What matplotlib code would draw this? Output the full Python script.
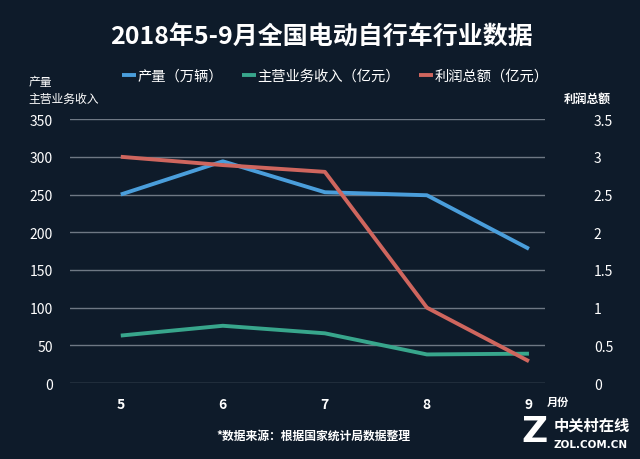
import matplotlib.pyplot as plt

plt.rcParams['font.family'] = ['Noto Sans CJK SC', 'DejaVu Sans']

months = [5, 6, 7, 8, 9]
output = [250, 294, 253, 249, 178]          # 产量（万辆）
revenue = [63, 76, 66, 38, 39]              # 主营业务收入（亿元）
profit = [3.0, 2.89, 2.8, 1.0, 0.29]        # 利润总额（亿元）
left_ticks = [0, 50, 100, 150, 200, 250, 300, 350]
right_ticks = [0, 0.5, 1, 1.5, 2, 2.5, 3, 3.5]
right_labels = ['0', '0.5', '1', '1.5', '2', '2.5', '3', '3.5']

BG = '#0e1b2a'
C_BLUE = '#4a9edb'
C_GREEN = '#38a68c'
C_RED = '#cf665e'
GRID = '#6e7884'
TXT = '#ffffff'

fig = plt.figure(figsize=(6.4, 4.6), dpi=100, facecolor=BG)
ax = fig.add_axes([0.109, 0.165, 0.743, 0.574])
ax.set_facecolor(BG)

l1, = ax.plot(months, output, color=C_BLUE, lw=2.8, label='产量（万辆）', solid_capstyle='butt')
l2, = ax.plot(months, revenue, color=C_GREEN, lw=2.8, label='主营业务收入（亿元）', solid_capstyle='butt')
ax.set_ylim(0, 350)
ax.set_xlim(4.5, 9.16)
ax.set_yticks(left_ticks)
ax.set_xticks(months)
ax.set_xticklabels([str(m) for m in months], fontweight='bold')
ax.grid(axis='y', color=GRID, lw=1)
ax.set_axisbelow(True)
for s in ax.spines.values():
    s.set_visible(False)
ax.tick_params(length=0, colors=TXT, labelsize=10)
ax.tick_params(axis='y', pad=12)
ax.tick_params(axis='x', pad=10)

ax2 = ax.twinx()
l3, = ax2.plot(months, profit, color=C_RED, lw=2.8, label='利润总额（亿元）', solid_capstyle='butt')
ax2.set_ylim(0, 3.5)
ax2.set_yticks(right_ticks)
ax2.set_yticklabels(right_labels)
for s in ax2.spines.values():
    s.set_visible(False)
ax2.tick_params(length=0, colors=TXT, labelsize=10, pad=35)

fig.text(0.502, 0.918, '2018年5-9月全国电动自行车行业数据', color=TXT, fontsize=18,
         fontweight='bold', ha='center', va='center')

leg = fig.legend(handles=[l1, l2, l3], loc='center', bbox_to_anchor=(0.524, 0.833), ncol=3,
                 frameon=False, fontsize=10.3, handlelength=1.0, columnspacing=1.3,
                 handletextpad=0.1, labelcolor=TXT)

fig.text(0.045, 0.82, '产量', color=TXT, fontsize=8.5, ha='left', va='center')
fig.text(0.045, 0.783, '主营业务收入', color=TXT, fontsize=8.5, ha='left', va='center')
fig.text(0.955, 0.783, '利润总额', color=TXT, fontsize=8.5, ha='right', va='center', fontweight='bold')
fig.text(0.855, 0.125, '月份', color=TXT, fontsize=8, ha='left', va='center', fontweight='bold')
fig.text(0.49, 0.052, '*数据来源：根据国家统计局数据整理', color=TXT, fontsize=8.5,
         ha='center', va='center', fontweight='bold')

fig.text(0.835, 0.06, 'Z', color=TXT, fontsize=26, fontweight='bold', ha='center', va='center',
         family='DejaVu Sans')
fig.text(0.865, 0.075, '中关村在线', color=TXT, fontsize=11, fontweight='bold', ha='left', va='center')
fig.text(0.865, 0.032, 'ZOL.COM.CN', color=TXT, fontsize=7.5, fontweight='bold', ha='left', va='center',
         family='DejaVu Sans')

fig.savefig('out.png', dpi=100, facecolor=BG)
